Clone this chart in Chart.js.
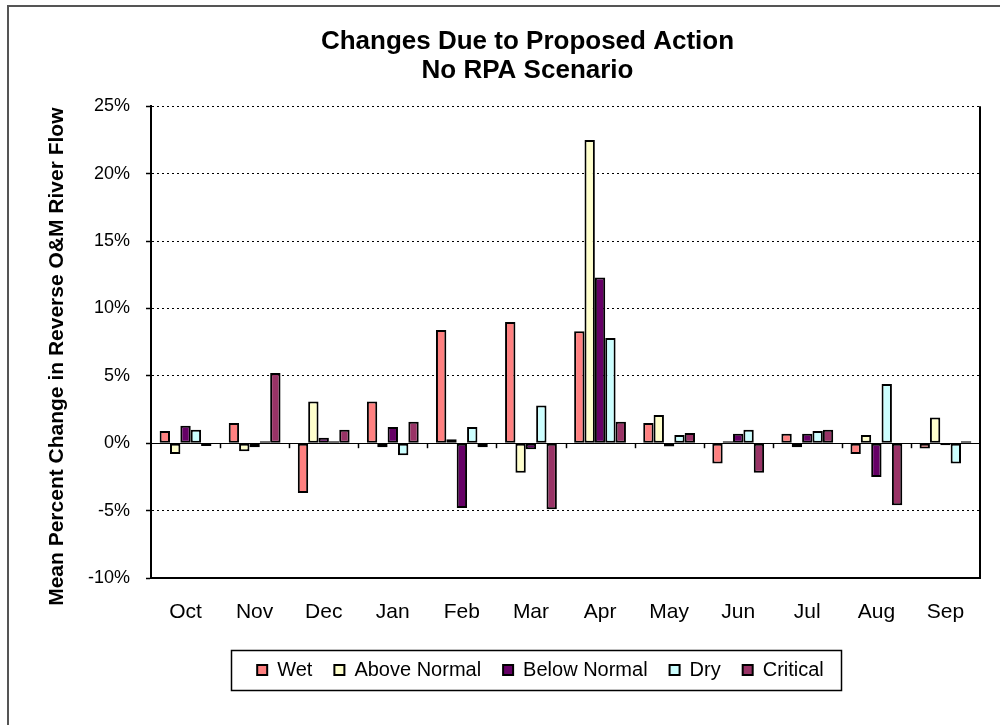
<!DOCTYPE html>
<html>
<head>
<meta charset="utf-8">
<script src="https://cdn.jsdelivr.net/npm/chart.js@4/dist/chart.umd.min.js"></script>
<style>
  html, body { margin: 0; padding: 0; background: #fff; }
  #wrap { width: 1000px; height: 725px; }
</style>
</head>
<body>
<div id="wrap"><canvas id="myChart" width="1000" height="725"></canvas></div>
<script>
const meses = ['Oct', 'Nov', 'Dec', 'Jan', 'Feb', 'Mar', 'Apr', 'May', 'Jun', 'Jul', 'Aug', 'Sep'];
const wet = [0.9, 1.5, -3.7, 3.1, 8.4, 9.0, 8.3, 1.5, -1.5, 0.7, -0.8, -0.4];
const aboveNormal = [-0.8, -0.6, 3.1, -0.3, 0.3, -2.2, 22.5, 2.1, 0.15, -0.3, 0.6, 1.9];
const belowNormal = [1.3, -0.3, 0.4, 1.2, -4.8, -0.45, 12.3, -0.25, 0.7, 0.7, -2.5, -0.15];
const dry = [1.0, 0.15, 0.15, -0.9, 1.2, 2.8, 7.8, 0.6, 1.0, 0.9, 4.4, -1.5];
const critical = [-0.2, 5.2, 1.0, 1.6, -0.3, -4.9, 1.6, 0.75, -2.2, 1.0, -4.6, 0.15];
const yTicks = [-10, -5, 0, 5, 10, 15, 20, 25];

const fuente = "'Liberation Sans', Arial, sans-serif";

function serie(label, data, color) {
    return {
        label: label,
        data: data,
        backgroundColor: color,
        borderColor: '#000',
        borderWidth: 2,
        borderSkipped: false,
        categoryPercentage: 0.75,
        barPercentage: 1.0
    };
}

// marco exterior, borde derecho, marcas del eje en 0 y recuadro de la leyenda
const extras = {
    id: 'extras',
    afterLayout(chart) {
        const t = chart.titleBlock;
        if (t) { t.left += 30; }
        const lg = chart.legend;
        if (lg) { lg.left += 28; lg.right += 28; }
    },
    beforeDraw(chart) {
        const c = chart.ctx;
        c.save();
        c.strokeStyle = '#555';
        c.lineWidth = 2;
        c.beginPath();
        c.moveTo(8, 725);
        c.lineTo(8, 6);
        c.lineTo(1000, 6);
        c.stroke();
        c.restore();
    },
    afterDraw(chart) {
        const c = chart.ctx;
        const a = chart.chartArea;
        const y0 = chart.scales.y.getPixelForValue(0);
        c.save();
        c.strokeStyle = '#000';
        c.lineWidth = 2;
        c.beginPath();
        c.moveTo(a.right, a.top);
        c.lineTo(a.right, a.bottom);
        c.stroke();
        c.lineWidth = 1.5;
        const paso = (a.right - a.left) / meses.length;
        for (let i = 1; i < meses.length; i++) {
            const px = Math.round(a.left + paso * i) + 0.5;
            c.beginPath();
            c.moveTo(px, y0);
            c.lineTo(px, y0 + 5);
            c.stroke();
        }
        const lg = chart.legend;
        if (lg && lg.legendHitBoxes.length) {
            const hb = lg.legendHitBoxes;
            const l = hb[0].left - 26;
            const r = hb[hb.length - 1].left + hb[hb.length - 1].width + 17;
            const cy = hb[0].top + hb[0].height / 2;
            c.lineWidth = 1.5;
            c.strokeRect(Math.round(l) + 0.5, Math.round(cy - 20) + 0.5, Math.round(r - l), 40);
        }
        c.restore();
    }
};

const ctx = document.getElementById('myChart').getContext('2d');
const chart = new Chart(ctx, {
    type: 'bar',
    data: {
        labels: meses,
        datasets: [
            serie('Wet', wet, '#FF8080'),
            serie('Above Normal', aboveNormal, '#FFFFCC'),
            serie('Below Normal', belowNormal, '#660066'),
            serie('Dry', dry, '#CCFFFF'),
            serie('Critical', critical, '#993366')
        ]
    },
    options: {
        responsive: false,
        animation: false,
        layout: { padding: { top: 8, left: 45, right: 20, bottom: 35 } },
        plugins: {
            tooltip: { enabled: false },
            title: {
                display: true,
                text: ['Changes Due to Proposed Action', 'No RPA Scenario'],
                color: '#000',
                font: { family: fuente, size: 26, weight: 'bold', lineHeight: 1.1 },
                padding: { top: 20, bottom: 21 }
            },
            legend: {
                position: 'bottom',
                labels: {
                    color: '#000',
                    font: { family: fuente, size: 20 },
                    boxWidth: 10,
                    boxHeight: 10,
                    padding: 22
                }
            }
        },
        scales: {
            x: {
                afterFit(s) { s.height = 60; },
                grid: { display: false, drawTicks: false },
                border: { display: true, color: '#000', width: 2 },
                ticks: { color: '#000', font: { family: fuente, size: 21 }, padding: 22 }
            },
            y: {
                min: -10,
                max: 25,
                afterFit(s) { s.width = 106; },
                afterBuildTicks(s) { s.ticks = yTicks.map(v => ({ value: v })); },
                grid: {
                    color: '#000',
                    lineWidth: 1,
                    tickColor: '#000',
                    tickLength: 5,
                    tickWidth: 1.5
                },
                border: {
                    display: true,
                    color: '#000',
                    width: 2,
                    dash: c => (c.tick && c.tick.value === 0) ? [] : [2, 3]
                },
                ticks: {
                    color: '#000',
                    font: { family: fuente, size: 18 },
                    padding: 16,
                    callback: v => v + '%'
                },
                title: {
                    display: true,
                    text: 'Mean Percent Change in Reverse O&M River Flow     ',
                    color: '#000',
                    font: { family: fuente, size: 21, weight: 'bold' },
                    padding: { top: 0, bottom: 0 }
                }
            }
        }
    },
    plugins: [extras]
});
</script>
</body>
</html>
